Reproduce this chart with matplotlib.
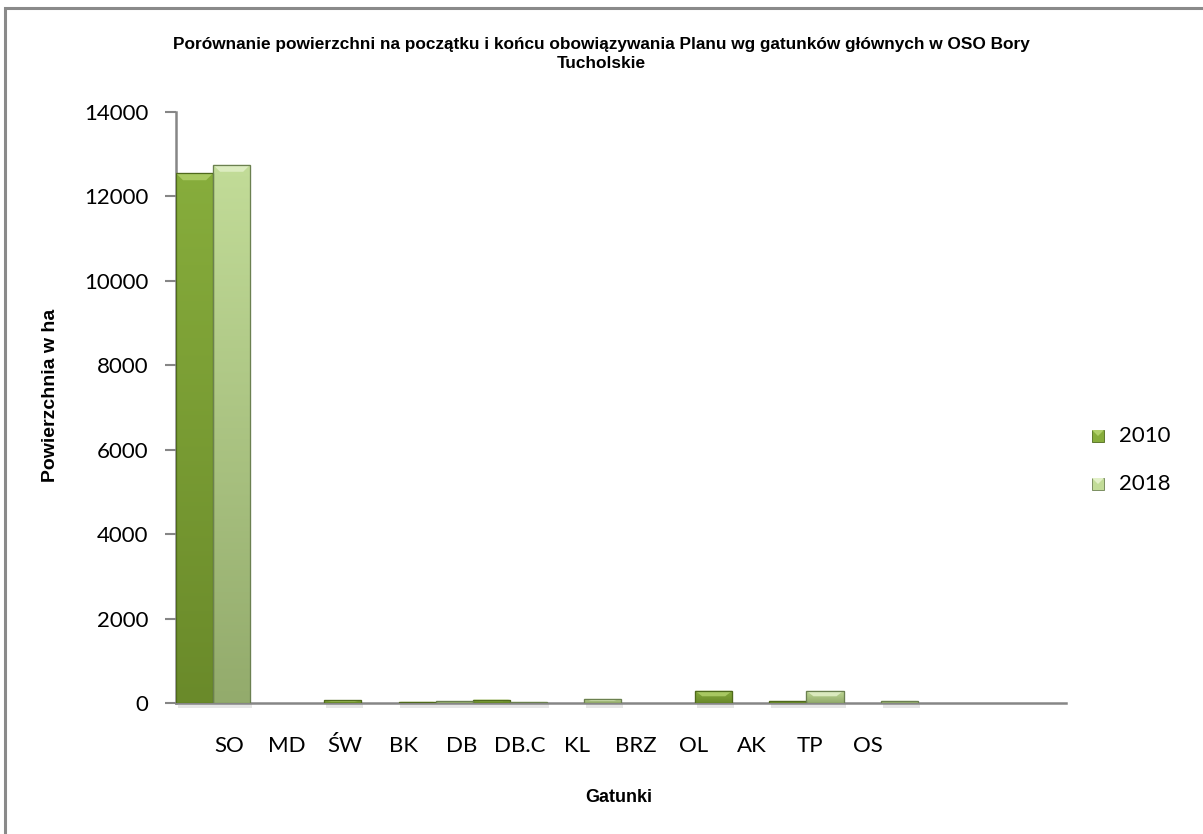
import numpy as np
import matplotlib
matplotlib.use("Agg")
import matplotlib.pyplot as plt
from matplotlib.patches import Rectangle, Polygon
from matplotlib.colors import LinearSegmentedColormap

# Main species and their area (ha) at the start and end of the Plan
species = ["SO", "MD", "ŚW", "BK", "DB", "DB.C", "KL", "BRZ", "OL", "AK", "TP", "OS"]
area_2010 = [12550, 0, 60, 30, 80, 0, 0, 290, 50, 0, 0, 0]
area_2018 = [12750, 0, 0, 50, 30, 100, 0, 0, 290, 55, 0, 0]
series_labels = ["2010", "2018"]
y_ticks = [0, 2000, 4000, 6000, 8000, 10000, 12000, 14000]

title = ("Porównanie powierzchni na początku i końcu obowiązywania Planu wg gatunków głównych w OSO Bory\n"
         "Tucholskie")
y_label = "Powierzchnia w ha"
x_label = "Gatunki"

narrow = ["Liberation Sans", "DejaVu Sans"]
body = ["Lato", "DejaVu Sans"]

W, H, DPI = 1203, 834, 100
fig = plt.figure(figsize=(W / DPI, H / DPI), dpi=DPI)
fig.patch.set_facecolor("white")

# outer chart frame
fig.add_artist(Rectangle((5 / W, -0.05), 1.1, (834 - 8) / H + 0.05, transform=fig.transFigure,
                         fill=False, edgecolor="#8a8a8a", linewidth=2.2))

ax = fig.add_axes([176 / W, (834 - 703) / H, 890 / W, 591 / H])
ax.set_xlim(0, len(species))
ax.set_ylim(0, 14000)

grey = "#868686"
for side in ("top", "right"):
    ax.spines[side].set_visible(False)
for side in ("left", "bottom"):
    ax.spines[side].set_color(grey)
    ax.spines[side].set_linewidth(1.8)

# gradients: (top colour, bottom colour), bevel colour, edge colour
styles = [
    dict(top="#87ad3c", bottom="#6a8a2a", bevel="#b0cf6a", edge="#4f6a1c"),
    dict(top="#c2dc98", bottom="#93ab6c", bevel="#e2f0c8", edge="#6b8050"),
]

px_x = len(species) / 890.0
px_y = 14000 / 591.0
idx = np.arange(len(species))
bar_w = 0.5

for k, (vals, st) in enumerate(zip([area_2010, area_2018], styles)):
    xs = idx + 0.25 + 0.5 * k
    bars = ax.bar(xs, vals, width=bar_w, color=st["top"], edgecolor=st["edge"],
                  linewidth=0.8, zorder=3, label=series_labels[k])
    cmap = LinearSegmentedColormap.from_list("g%d" % k, [st["bottom"], st["top"]])
    for b, v in zip(bars, vals):
        if v <= 0:
            b.set_visible(False)
            continue
        x0 = b.get_x()
        x1 = x0 + b.get_width()
        # soft shadow under the bar
        ax.add_patch(Rectangle((x0 + 2 * px_x, -5 * px_y), b.get_width(), 5 * px_y,
                               facecolor="#c8c8c8", edgecolor="none", alpha=0.45,
                               zorder=1, clip_on=False))
        grad = np.linspace(0, 1, 256).reshape(-1, 1)
        im = ax.imshow(grad, extent=(x0, x1, 0, v), origin="lower", cmap=cmap,
                       aspect="auto", zorder=3.5, interpolation="bilinear")
        im.set_clip_path(b)
        # bevelled top
        dy = min(7 * px_y, v * 0.45)
        dx = 7 * px_x
        ax.add_patch(Polygon([(x0, v), (x1, v), (x1 - dx, v - dy), (x0 + dx, v - dy)],
                             closed=True, facecolor=st["bevel"], edgecolor="none",
                             alpha=0.85, zorder=4))
        ax.add_patch(Rectangle((x0, 0), b.get_width(), v, fill=False,
                               edgecolor=st["edge"], linewidth=0.9, zorder=5))

ax.set_yticks(y_ticks)
ax.set_yticklabels([str(t) for t in y_ticks], fontsize=16, family=body)
ax.tick_params(axis="y", direction="out", length=8, width=1.5, color=grey, pad=12)

# category labels along the bottom
label_pos = 0.715 + 0.783 * idx
ax.set_xticks(label_pos)
ax.set_xticklabels(species, fontsize=16, family=body)
ax.tick_params(axis="x", length=0, pad=24)

ax.set_ylabel(y_label, fontsize=14, fontweight="bold", family=narrow)
ax.yaxis.set_label_coords(-0.131, 0.52)
ax.set_xlabel(x_label, fontsize=13, fontweight="bold", family=narrow)
ax.xaxis.set_label_coords(0.497, -0.145)

fig.text(601 / W, 1 - 54 / H, title, ha="center", va="center", fontsize=12.4,
         fontweight="bold", family=narrow, linespacing=1.35)

# legend
for k, st in enumerate(styles):
    yc = 1 - (436 + 48 * k) / H
    fig.add_artist(Rectangle((1092 / W, yc - 6 / H), 12 / W, 12 / H, transform=fig.transFigure,
                             facecolor=st["top"], edgecolor=st["edge"], linewidth=0.6))
    fig.add_artist(Polygon([(1092 / W, yc + 6 / H), (1104 / W, yc + 6 / H), (1098 / W, yc)],
                           closed=True, transform=fig.transFigure,
                           facecolor=st["bevel"], edgecolor="none"))
    fig.text(1119 / W, yc, series_labels[k], fontsize=16, family=body, va="center", ha="left")

fig.savefig("out.png", dpi=DPI)
